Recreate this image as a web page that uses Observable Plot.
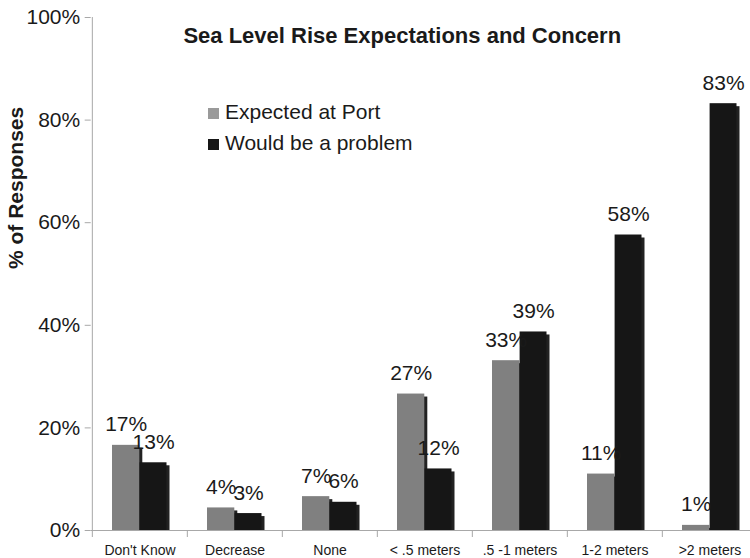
<!DOCTYPE html>
<html>
<head>
<meta charset="utf-8">
<script src="https://cdn.jsdelivr.net/npm/d3@7"></script>
<script src="https://cdn.jsdelivr.net/npm/@observablehq/plot@0.6"></script>
<style>
  html, body { margin: 0; padding: 0; background: #fff; }
  #wrap { position: relative; width: 750px; height: 558px; font-family: "Liberation Sans", Arial, Helvetica, sans-serif; }
  #legend { position: absolute; left: 208px; top: 96px; color: #1a1a1a; }
  .row { display: flex; align-items: center; height: 31px; font-size: 21px; line-height: 31px; }
  .sw { width: 11px; height: 11px; margin-right: 6px; margin-top: 3px; }
</style>
</head>
<body>
<div id="wrap"><div id="legend"></div></div>
<script>
const categories = ["Don't Know", "Decrease", "None", "< .5 meters", ".5 -1 meters", "1-2 meters", ">2 meters"];
const expectedAtPort = [16.6, 4.4, 6.6, 26.6, 33.1, 11.0, 1.0];
const wouldBeProblem = [13.2, 3.3, 5.5, 12.0, 38.7, 57.6, 83.2];
const yTicks = [0, 20, 40, 60, 80, 100];
const seriesNames = ["Expected at Port", "Would be a problem"];
const seriesColors = ["#808080", "#161616"];
const legendColors = ["#9a9a9a", "#161616"];
const title = "Sea Level Rise Expectations and Concern";
const yTitle = "% of Responses";

const rows = categories.map((c, i) => ({category: c, expected: expectedAtPort[i], problem: wouldBeProblem[i]}));

const font = "'Liberation Sans', Arial, Helvetica, sans-serif";
const left = 90.7, right = 758;
const step = (right - left) / categories.length;
const axisGrey = "#a8a8a8";
const shadow = "#222";

const chart = Plot.plot({
  width: 750,
  height: 558,
  marginTop: 17,
  marginBottom: 28,
  marginLeft: left,
  marginRight: 0,
  style: {fontFamily: font, background: "white", color: "#1a1a1a"},
  x: {domain: categories, range: [left, right], padding: 0, axis: null},
  y: {domain: [0, 100], axis: null},
  marks: [
    // drop shadows
    Plot.barY(rows, {x: "category", y: "expected", fill: shadow, insetLeft: 20, insetRight: 47.7, insetTop: 3, dx: 3}),
    Plot.barY(rows, {x: "category", y: "problem", fill: shadow, insetLeft: 47.6, insetRight: 20.5, insetTop: 3, dx: 3}),
    // bars
    Plot.barY(rows, {x: "category", y: "expected", fill: seriesColors[0], insetLeft: 20, insetRight: 47.7}),
    Plot.barY(rows, {x: "category", y: "problem", fill: seriesColors[1], insetLeft: 47.6, insetRight: 20.5}),
    // axes lines
    Plot.ruleY([0], {stroke: axisGrey}),
    Plot.ruleX([categories[0]], {y1: 0, y2: 100, dx: -step / 2, stroke: axisGrey}),
    Plot.axisY({ticks: yTicks, tickFormat: d => d + "%", tickSize: 6, tickPadding: 5, fontSize: 21, stroke: axisGrey, label: null}),
    Plot.axisX({tickSize: 7, tickFormat: () => "", dx: -step / 2, stroke: axisGrey, label: null}),
    Plot.axisX({tickSize: 0, tickPadding: 15, fontSize: 14, label: null}),
    // data labels
    Plot.text(rows, {x: "category", y: "expected", text: d => Math.round(d.expected) + "%", dx: -13.8, dy: -14, lineAnchor: "bottom", fontSize: 21, fill: "#1a1a1a"}),
    Plot.text(rows, {x: "category", y: "problem", text: d => Math.round(d.problem) + "%", dx: 13.6, dy: -14, lineAnchor: "bottom", fontSize: 21, fill: "#1a1a1a"}),
    // titles
    Plot.text([title], {text: d => d, frameAnchor: "top", lineAnchor: "bottom", dy: 25, dx: -18.6, fontSize: 22, fontWeight: "bold", fill: "#1a1a1a"}),
    Plot.text([yTitle], {text: d => d, frameAnchor: "left", rotate: -90, dx: -75, dy: -5, fontSize: 21, fontWeight: "bold", fill: "#1a1a1a"})
  ]
});

const wrap = document.getElementById("wrap");
wrap.insertBefore(chart, wrap.firstChild);

const legend = document.getElementById("legend");
seriesNames.forEach((name, i) => {
  const row = document.createElement("div");
  row.className = "row";
  const sw = document.createElement("span");
  sw.className = "sw";
  sw.style.background = legendColors[i];
  const label = document.createElement("span");
  label.textContent = name;
  row.appendChild(sw);
  row.appendChild(label);
  legend.appendChild(row);
});
</script>
</body>
</html>
